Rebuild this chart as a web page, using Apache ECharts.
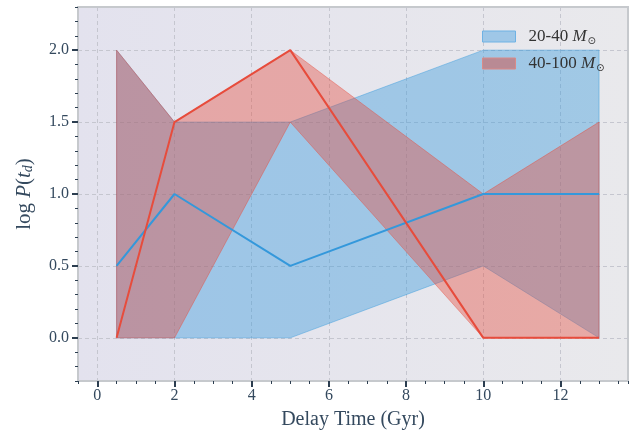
<!DOCTYPE html>
<html>
<head>
<meta charset="utf-8">
<script src="https://cdn.jsdelivr.net/npm/echarts@6/dist/echarts.min.js"></script>
<style>
  html, body { margin: 0; padding: 0; background: #fff; }
  #chart { width: 638px; height: 430px; }
</style>
</head>
<body>
<div id="chart"></div>
<script>
// Data
const delayTimes = [0.5, 2, 5, 10, 13];
const lineLowMass = [0.5, 1.0, 0.5, 1.0, 1.0];
const lineHighMass = [0.0, 1.5, 2.0, 0.0, 0.0];
const bandLowUpper = [2.0, 1.5, 1.5, 2.0, 2.0];
const bandLowLower = [0.0, 0.0, 0.0, 0.5, 0.0];
const bandHighUpper = [2.0, 1.5, 2.0, 1.0, 1.5];
const bandHighLower = [0.0, 0.0, 1.5, 0.0, 0.0];
const xTicks = [0, 2, 4, 6, 8, 10, 12];
const yTicks = [0, 0.5, 1.0, 1.5, 2.0];

const serif = '"Liberation Serif", "DejaVu Serif", serif';
const inkColor = '#2c3e50';
const labelColor = '#34495e';

const chart = echarts.init(document.getElementById('chart'));

// polygon between upper and lower curves
const bandSeries = (name, upper, lower, fill, edge) => ({
    name: name,
    type: 'custom',
    xAxisIndex: 0,
    yAxisIndex: 0,
    data: [[delayTimes[0], upper[0]]],
    itemStyle: { color: fill },
    renderItem: (params, api) => {
        const pts = delayTimes.map((x, i) => api.coord([x, upper[i]]));
        for (let i = delayTimes.length - 1; i >= 0; i--) {
            pts.push(api.coord([delayTimes[i], lower[i]]));
        }
        return {
            type: 'polygon',
            shape: { points: pts },
            style: { fill: fill, stroke: edge, lineWidth: 1 }
        };
    },
    silent: true
});

const lineSeries = (name, values, color) => ({
    name: name,
    type: 'line',
    data: delayTimes.map((x, i) => [x, values[i]]),
    showSymbol: false,
    lineStyle: { color: color, width: 2 },
    itemStyle: { color: color },
    z: 5
});

const legendLabel = {
    n: { fontFamily: serif, fontSize: 17, color: '#333' },
    i: { fontFamily: serif, fontSize: 17, fontStyle: 'italic', color: '#333' },
    s: { fontFamily: '"DejaVu Sans", sans-serif', fontSize: 10, color: '#333', padding: [9, 0, 0, 1] }
};

const minorAxis = (min, max, interval, position) => ({
    type: 'value',
    min: min,
    max: max,
    interval: interval,
    position: position,
    axisLine: { show: false, onZero: false },
    axisTick: { show: true, length: 3, lineStyle: { color: inkColor, width: 1 } },
    axisLabel: { show: false },
    splitLine: { show: false }
});

const option = {
    animation: false,
    grid: {
        left: 78, right: 10, top: 7, bottom: 49,
        outerBoundsMode: 'none',
        show: true,
        backgroundColor: {
            type: 'linear', x: 0, y: 0, x2: 1, y2: 0,
            colorStops: [
                { offset: 0, color: '#e3e2ee' },
                { offset: 1, color: '#e9e9ec' }
            ]
        },
        borderColor: '#c6c9cd',
        borderWidth: 2
    },
    legend: {
        orient: 'vertical',
        left: 482,
        top: 28,
        padding: 0,
        itemWidth: 33,
        itemHeight: 11,
        itemGap: 9,
        icon: 'rect',
        data: [
            { name: '20-40', itemStyle: { color: '#9fc7e7', borderColor: '#6fb2e4', borderWidth: 1 } },
            { name: '40-100', itemStyle: { color: '#b98a94', borderColor: '#d98a88', borderWidth: 1 } }
        ],
        formatter: name => '{n|' + name + ' }{i|M}{s|⊙}',
        textStyle: { rich: legendLabel, padding: [0, 0, 0, 8] }
    },
    xAxis: [
        {
            type: 'value',
            min: -0.5,
            max: 13.75,
            name: 'Delay Time (Gyr)',
            nameLocation: 'middle',
            nameGap: 29,
            nameTextStyle: { fontFamily: serif, fontSize: 20, color: labelColor },
            axisLine: { show: false, onZero: false },
            axisTick: { show: true, length: 6, customValues: xTicks, lineStyle: { color: inkColor, width: 2 } },
            axisLabel: { customValues: xTicks, fontFamily: serif, fontSize: 16, color: labelColor, margin: 7 },
            splitLine: { show: true, lineStyle: { color: '#c5c6cf', type: [4, 3], width: 1 } }
        },
        minorAxis(-0.5, 13.75, 0.5, 'bottom')
    ],
    yAxis: [
        {
            type: 'value',
            min: -0.3,
            max: 2.3,
            name: '{n|log }{i|P}{n|(}{i|t}{s|d}{n|)}',
            nameLocation: 'middle',
            nameGap: 43,
            nameTextStyle: {
                rich: {
                    n: { fontFamily: serif, fontSize: 21, color: labelColor },
                    i: { fontFamily: serif, fontSize: 21, fontStyle: 'italic', color: labelColor },
                    s: { fontFamily: serif, fontSize: 14, fontStyle: 'italic', color: labelColor, padding: [8, 0, 0, 0] }
                }
            },
            axisLine: { show: false, onZero: false },
            axisTick: { show: true, length: 6, customValues: yTicks, lineStyle: { color: inkColor, width: 2 } },
            axisLabel: {
                customValues: yTicks,
                fontFamily: serif, fontSize: 16, color: labelColor, margin: 9,
                formatter: v => v.toFixed(1)
            },
            splitLine: { show: true, lineStyle: { color: '#c5c6cf', type: [4, 3], width: 1 } }
        },
        minorAxis(-0.3, 2.3, 0.1, 'left')
    ],
    series: [
        bandSeries('20-40', bandLowUpper, bandLowLower, 'rgba(52,152,219,0.4)', 'rgba(52,152,219,0.45)'),
        bandSeries('40-100', bandHighUpper, bandHighLower, 'rgba(231,76,60,0.4)', 'rgba(231,76,60,0.45)'),
        lineSeries('median 20-40', lineLowMass, '#3498db'),
        lineSeries('median 40-100', lineHighMass, '#e74c3c')
    ]
};

chart.setOption(option);
</script>
</body>
</html>
